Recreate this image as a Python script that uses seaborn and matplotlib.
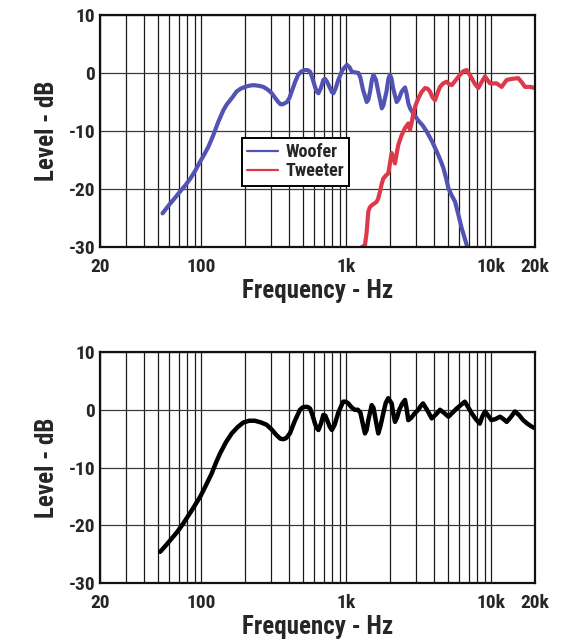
"""
plot.py - woofer / tweeter frequency response and the summed system response.
"""
import matplotlib
matplotlib.use("Agg")
import matplotlib.pyplot as plt
from matplotlib import font_manager as fm
from matplotlib.lines import Line2D
from matplotlib.ticker import LogLocator, NullFormatter
import pandas as pd
import seaborn as sns

# --- data (Hz, dB) ---
woofer_hz = [54, 61, 66, 71, 78, 84, 91, 98, 105, 112,
             121, 131, 142, 150, 158, 166, 175, 187, 200, 214,
             228, 248, 268, 288, 306, 325, 339, 352, 364, 377,
             390, 405, 420, 444, 466, 492, 518, 540, 563, 585,
             608, 625, 642, 668, 694, 712, 735, 772, 795, 814,
             845, 880, 940, 1010, 1050, 1092, 1150, 1212, 1250, 1300,
             1382, 1420, 1458, 1500, 1538, 1600, 1660, 1756, 1800, 1892,
             1950, 2000, 2050, 2100, 2222, 2300, 2408, 2540, 2600, 2680,
             2752, 2900, 3130, 3350, 3580, 3900, 4210, 4450, 4670, 4880,
             5060, 5300, 5620, 5930, 6250, 6500, 6770]
woofer_db = [-24.2, -22.5, -21.5, -20.5, -19.3, -18.2, -16.8, -15.3, -14.0, -12.7,
             -10.7, -8.4, -6.4, -5.4, -4.7, -4.0, -3.2, -2.7, -2.4, -2.2,
             -2.1, -2.2, -2.4, -2.9, -3.5, -4.4, -5.0, -5.4, -5.4, -5.2,
             -5.0, -4.3, -3.2, -1.5, -0.3, 0.3, 0.5, 0.5, 0.2, -1.0,
             -2.4, -3.2, -3.5, -2.6, -1.2, -1.0, -1.5, -2.6, -3.3, -3.5,
             -2.6, -1.2, 0.5, 1.4, 1.0, 0.2, 0.1, 0.0, -0.8, -2.8,
             -5.0, -4.6, -3.2, -1.2, -0.3, -1.2, -3.2, -6.1, -5.6, -3.2,
             -1.0, -0.3, -1.0, -2.6, -5.0, -4.5, -3.2, -2.5, -3.5, -5.3,
             -6.1, -7.0, -8.2, -9.0, -10.1, -11.8, -13.6, -15.0, -16.4, -18.2,
             -19.9, -21.0, -22.2, -24.5, -26.8, -28.2, -29.7]

tweeter_hz = [1280, 1344, 1380, 1417, 1450, 1496, 1560, 1620, 1660, 1706,
              1750, 1798, 1870, 1946, 2000, 2054, 2110, 2166, 2220, 2282,
              2408, 2538, 2674, 2748, 2820, 2896, 3000, 3134, 3300, 3486,
              3630, 3774, 3930, 4086, 4250, 4424, 4650, 4920, 5100, 5328,
              5700, 6080, 6400, 6762, 7050, 7318, 7700, 8128, 8600, 9040,
              9400, 9788, 10886, 11300, 11786, 12250, 12760, 14000, 15340, 16200,
              17060, 18500, 20000]
tweeter_db = [-30.0, -29.7, -27.5, -23.9, -23.2, -22.8, -22.5, -22.2, -21.6, -20.5,
              -19.2, -18.2, -17.7, -17.3, -15.5, -13.8, -14.8, -15.6, -14.0, -12.4,
              -10.7, -9.5, -8.7, -9.8, -8.6, -7.0, -5.6, -4.4, -3.3, -2.6,
              -2.7, -3.2, -4.2, -4.7, -3.5, -2.4, -1.8, -1.5, -1.9, -2.1,
              -1.2, -0.3, 0.3, 0.5, -0.2, -0.9, -1.9, -2.6, -1.5, -0.6,
              -1.2, -1.8, -1.8, -2.1, -2.4, -1.8, -1.2, -1.0, -0.9, -1.6,
              -2.4, -2.4, -2.6]

total_hz = [52, 56, 61, 68, 75, 85, 98, 108, 118, 126,
            135, 148, 162, 178, 195, 214, 234, 258, 282, 305,
            330, 350, 367, 385, 408, 440, 479, 500, 518, 540,
            563, 585, 608, 625, 642, 668, 694, 715, 740, 770,
            795, 830, 880, 950, 990, 1032, 1080, 1140, 1200, 1250,
            1300, 1344, 1380, 1417, 1496, 1540, 1600, 1660, 1720, 1798,
            1870, 1946, 2054, 2100, 2166, 2240, 2320, 2420, 2538, 2600,
            2674, 2800, 2965, 3134, 3250, 3380, 3600, 3880, 4150, 4424,
            4750, 5060, 5400, 5760, 6150, 6560, 6900, 7318, 7800, 8320,
            8650, 9040, 9500, 10020, 10700, 11480, 12100, 12760, 13600, 14540,
            15500, 16580, 17700, 18920, 20000]
total_db = [-24.6, -23.7, -22.6, -21.2, -19.7, -17.6, -15.1, -13.0, -11.0, -9.2,
            -7.5, -5.6, -4.1, -3.0, -2.2, -1.9, -1.9, -2.2, -2.6, -3.4,
            -4.4, -5.0, -5.1, -4.9, -4.1, -2.0, 0.0, 0.4, 0.5, 0.5,
            0.2, -1.0, -2.4, -3.2, -3.5, -2.4, -0.9, -1.0, -1.9, -3.0,
            -3.5, -2.6, -0.5, 1.4, 1.4, 1.1, 0.5, 0.0, 0.0, -0.5,
            -2.5, -4.1, -3.5, -1.8, 0.8, 0.3, -2.0, -4.1, -2.8, -0.6,
            1.2, 2.0, 1.1, -0.5, -2.1, -1.3, 0.0, 1.0, 1.7, 0.3,
            -1.8, -1.4, -0.6, 0.0, 0.6, 1.1, 0.0, -1.5, -0.8, 0.0,
            -0.6, -1.2, -0.5, 0.2, 0.8, 1.4, 0.5, -0.6, -1.6, -2.4,
            -1.2, -0.3, -1.0, -1.8, -1.6, -1.2, -1.6, -2.1, -1.3, -0.3,
            -0.9, -1.8, -2.4, -2.9, -3.2]

x_ticks = [20, 100, 1000, 10000, 20000]
x_labels = ["20", "100", "1k", "10k", "20k"]
y_ticks = [-30, -20, -10, 0, 10]

BLUE = "#5352b5"
RED = "#dc3a4b"

sns.set_theme(style="white")

# condensed bold face, closest thing to the original Helvetica Condensed
installed = {f.name for f in fm.fontManager.ttflist}
narrow = next((n for n in ["Nimbus Sans Narrow", "Liberation Sans Narrow",
                           "Roboto Condensed", "Archivo Narrow"] if n in installed), None)
if narrow:
    plt.rcParams["font.family"] = [narrow, "DejaVu Sans"]
else:
    plt.rcParams["font.family"] = ["DejaVu Sans"]
    plt.rcParams["font.stretch"] = "condensed"
plt.rcParams["font.weight"] = "bold"


def style_axes(ax):
    ax.set_xscale("log")
    ax.set_xlim(20, 20000)
    ax.set_ylim(-30, 10)
    ax.set_xticks(x_ticks)
    ax.set_xticklabels(x_labels)
    ax.xaxis.set_minor_locator(LogLocator(base=10, subs=range(2, 10), numticks=20))
    ax.xaxis.set_minor_formatter(NullFormatter())
    ax.set_yticks(y_ticks)
    ax.set_yticklabels([str(v) for v in y_ticks])
    ax.grid(True, which="both", axis="x", color="#1a1a1a", linewidth=0.9)
    ax.grid(True, which="major", axis="y", color="#3a3a3a", linewidth=0.9)
    ax.tick_params(axis="both", which="both", length=0, labelsize=14)
    ax.tick_params(axis="x", pad=8)
    ax.tick_params(axis="y", pad=3.5)
    for sp in ax.spines.values():
        sp.set_color("#111111")
        sp.set_linewidth(1.6)
    ax.set_xlabel("Frequency - Hz", fontsize=18, fontweight="bold", labelpad=2)
    ax.set_ylabel("Level - dB", fontsize=18, fontweight="bold", labelpad=7)


fig = plt.figure(figsize=(5.84, 6.42), dpi=100)
ax1 = fig.add_axes([0.1712, 0.6153, 0.7449, 0.3614])
ax2 = fig.add_axes([0.1712, 0.0919, 0.7449, 0.3598])

woofer = pd.DataFrame({"hz": woofer_hz, "db": woofer_db})
tweeter = pd.DataFrame({"hz": tweeter_hz, "db": tweeter_db})
total = pd.DataFrame({"hz": total_hz, "db": total_db})

line_kw = dict(estimator=None, solid_capstyle="round", solid_joinstyle="round")
sns.lineplot(data=woofer, x="hz", y="db", ax=ax1, color=BLUE, linewidth=3, **line_kw)
sns.lineplot(data=tweeter, x="hz", y="db", ax=ax1, color=RED, linewidth=3, **line_kw)
sns.lineplot(data=total, x="hz", y="db", ax=ax2, color="black", linewidth=3.2, **line_kw)

for ax in (ax1, ax2):
    style_axes(ax)

handles = [Line2D([], [], color=BLUE, linewidth=1.6, label="Woofer"),
           Line2D([], [], color=RED, linewidth=1.6, label="Tweeter")]
leg = ax1.legend(handles=handles, loc="upper left", bbox_to_anchor=(0.326, 0.47),
                 fancybox=False, framealpha=1, edgecolor="black", fontsize=13,
                 handlelength=1.7, handletextpad=0.4, labelspacing=0.05,
                 borderpad=0.3, borderaxespad=0)
leg.get_frame().set_linewidth(1.4)

fig.savefig("out.png", dpi=100, facecolor="white")
